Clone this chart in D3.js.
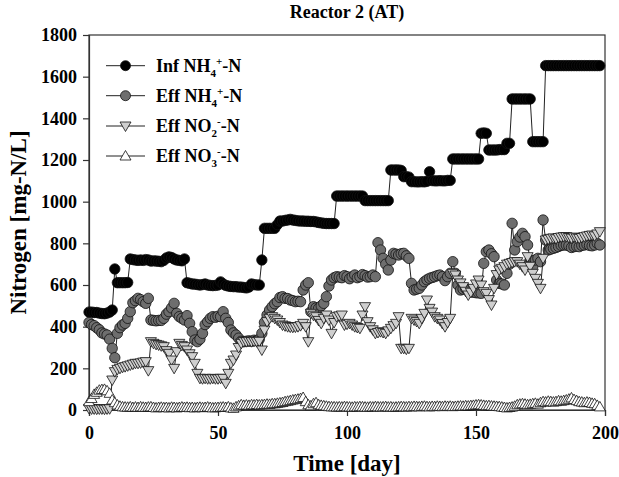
<!DOCTYPE html>
<html><head><meta charset="utf-8">
<script src="https://cdn.jsdelivr.net/npm/d3@7"></script>
<style>
body{margin:0;background:#fff;}
text{font-family:"Liberation Serif","Times New Roman",serif;font-weight:bold;fill:#000;}
</style></head>
<body><svg id="c" width="619" height="477"></svg>
<script>
const days = [0,1,2,3,4,5,6,7,8,9,10,11,12,13,14,15,16,17,18,19,20,21,22,23,24,25,26,27,28,29,30,31,32,33,34,35,36,37,38,39,40,41,42,43,44,45,46,47,48,49,50,51,52,53,54,55,56,57,58,59,60,61,62,63,64,65,66,67,68,69,70,71,72,73,74,75,76,77,78,79,80,81,82,83,84,85,86,87,88,89,90,91,92,93,94,95,96,97,98,99,100,101,102,103,104,105,106,107,108,109,110,111,112,113,114,115,116,117,118,119,120,121,122,123,124,125,126,127,128,129,130,131,132,133,134,135,136,137,138,139,140,141,142,143,144,145,146,147,148,149,150,151,152,153,154,155,156,157,158,159,160,161,162,163,164,165,166,167,168,169,170,171,172,173,174,175,176,177,178,179,180,181,182,183,184,185,186,187,188,189,190,191,192,193,194,195,196,197,198];
const infNH4 = [470,470,468,468,465,463,462,465,470,480,677,611,611,611,611,612,
725,722,720,718,720,718,722,720,715,716,715,714,712,718,730,735,732,725,720,718,716,725,
611,608,605,604,602,600,602,605,600,598,597,598,600,615,605,598,595,593,592,592,590,590,588,586,590,605,602,600,600,
720,872,872,872,872,872,890,
907,907,910,912,915,912,910,908,907,907,906,906,905,905,903,900,898,896,895,895,895,895,
1027,1027,1027,1027,1027,1027,1027,1027,1027,1027,1027,
1005,1005,1005,1005,1005,1005,1005,1005,1005,1005,
1152,1152,1152,1152,1150,1120,1120,1118,1096,1096,1095,1095,1096,1095,1098,1144,
1101,1100,1100,1101,1100,1100,1102,1102,
1205,1205,1205,1205,1205,1205,1205,1205,1205,1205,1205,
1328,1330,1328,1248,1248,1248,1248,1250,1250,1250,1280,1280,
1493,1493,1493,1493,1493,1493,1493,1493,1288,1288,1288,1288,1288,
1653,1653,1653,1653,1653,1653,1653,1653,1653,1653,1653,1653,1653,1653,1653,1653,1653,1653,1653,1653,1653,1653];
const effNH4 = [420,410,405,395,385,370,365,360,340,296,251,368,395,408,416,440,472,515,525,536,530,520,512,536,432,430,428,430,430,440,
460,472,490,512,464,448,440,432,453,416,376,336,328,340,368,410,424,440,448,445,450,448,472,440,420,384,370,360,345,330,
328,330,332,330,335,333,340,368,420,456,480,496,510,520,540,544,536,535,528,525,520,522,520,576,600,611,472,496,490,488,
500,512,544,595,624,635,640,638,635,645,640,630,640,648,635,640,650,645,638,640,648,640,803,768,728,700,672,720,752,748,
744,750,752,740,728,608,576,580,584,600,616,625,632,636,640,645,648,640,621,640,656,712,656,600,576,580,584,575,568,565,
563,562,560,704,760,768,750,736,624,608,605,600,656,700,896,768,808,830,848,832,792,720,688,720,728,712,912,816,768,772,
776,780,785,790,792,792,788,780,784,786,784,790,792,795,790,788,792,800,792];
const effNO2 = [8,5,5,4,5,5,4,5,6,144,184,195,200,205,208,212,216,220,224,224,226,230,232,189,328,320,315,312,308,304,
285,272,240,200,280,320,310,304,288,270,256,224,176,152,150,152,150,150,152,150,150,152,152,128,176,224,240,264,300,320,
328,328,330,328,330,328,330,288,384,424,440,448,440,432,420,408,404,400,398,397,398,400,405,416,400,328,464,455,448,430,
416,440,456,432,368,420,448,452,456,408,412,416,408,400,396,392,456,496,424,400,385,368,372,376,372,368,380,392,405,416,
448,296,296,292,296,440,432,425,416,440,464,528,488,470,448,440,432,415,400,420,440,656,648,624,610,592,570,552,565,584,
605,624,600,568,560,530,504,584,650,672,680,688,700,704,708,712,712,700,688,672,736,690,656,632,608,584,728,816,820,824,
826,822,828,830,832,832,828,825,830,826,824,828,832,835,838,840,836,845,856];
const effNO3 = [40,55,75,85,95,98,99,92,80,48,35,24,18,15,14,13,15,12,14,12,15,13,12,14,15,12,10,12,13,11,
12,10,13,12,10,12,14,12,13,11,12,10,12,13,11,12,14,12,10,11,12,13,14,12,15,10,8,15,20,25,
22,24,22,25,24,26,24,25,26,28,27,30,30,32,34,36,40,42,45,48,50,52,55,60,40,25,20,30,35,25,
22,20,18,16,15,15,14,15,14,16,15,14,13,15,14,16,15,14,13,15,14,16,15,14,15,16,14,15,13,14,
15,16,15,14,16,15,17,16,15,17,18,16,15,17,16,18,17,16,18,17,18,16,17,18,19,18,20,19,21,22,
24,25,24,22,20,21,19,18,17,16,14,12,10,12,14,18,25,28,30,28,25,27,30,32,28,35,40,38,42,40,
38,40,44,42,45,48,52,58,50,45,40,38,35,38,36,32,30,22,15];
const xTicks = [0,50,100,150,200];
const yTicks = [0,200,400,600,800,1000,1200,1400,1600,1800];

const svg = d3.select("#c");
const L=89, R=605, T=35, B=410;
const x = d3.scaleLinear().domain([0,200]).range([L,R]);
const y = d3.scaleLinear().domain([0,1800]).range([B,T]);

svg.append("rect").attr("x",L).attr("y",T).attr("width",R-L).attr("height",B-T)
  .attr("fill","none").attr("stroke","#333").attr("stroke-width",1.2);

const xAxis = svg.append("g").attr("transform",`translate(0,${B})`)
  .call(d3.axisBottom(x).tickValues(xTicks).tickFormat(d3.format("d")).tickSizeOuter(0).tickSize(6).tickPadding(10));
const yAxis = svg.append("g").attr("transform",`translate(${L},0)`)
  .call(d3.axisLeft(y).tickValues(yTicks).tickFormat(d3.format("d")).tickSizeOuter(0).tickSize(6).tickPadding(6));
[xAxis,yAxis].forEach(a=>{
  a.select(".domain").attr("stroke","#333").attr("stroke-width",1.2);
  a.selectAll(".tick line").attr("stroke","#333").attr("stroke-width",1.2);
  a.selectAll("text").style("font-family","'Liberation Serif',serif").style("font-weight","bold").style("font-size","18px").attr("fill","#000");
});

svg.append("text").attr("x",347).attr("y",18).attr("text-anchor","middle").style("font-size","18px").text("Reactor 2 (AT)");
svg.append("text").attr("x",347).attr("y",471).attr("text-anchor","middle").style("font-size","23px").text("Time [day]");
svg.append("text").attr("transform",`translate(26,${(T+B)/2}) rotate(-90)`).attr("text-anchor","middle").style("font-size","23px").text("Nitrogen [mg-N/L]");

const triDown = "M-5.5,-4L5.5,-4L0,5.5Z";
const triUp = "M-5.5,4L5.5,4L0,-5.5Z";
const styles = [
  {vals:infNH4, shape:"circle", fill:"#000"},
  {vals:effNH4, shape:"circle", fill:"#6e6e6e"},
  {vals:effNO2, shape:triDown, fill:"#cfcfcf"},
  {vals:effNO3, shape:triUp, fill:"#fff"}
];
const line = d3.line().x(d=>x(d[0])).y(d=>y(d[1]));
styles.forEach(s=>{
  const pts = days.map((d,i)=>[d,s.vals[i]]);
  const g = svg.append("g");
  g.append("path").attr("d",line(pts)).attr("fill","none").attr("stroke","#222").attr("stroke-width",1);
  pts.forEach(p=>{
    if(s.shape==="circle") g.append("circle").attr("cx",x(p[0])).attr("cy",y(p[1])).attr("r",5.2).attr("fill",s.fill).attr("stroke","#111").attr("stroke-width",0.8);
    else g.append("path").attr("d",s.shape).attr("transform",`translate(${x(p[0])},${y(p[1])})`).attr("fill",s.fill).attr("stroke","#111").attr("stroke-width",0.8);
  });
});

const legRows = [65.7,95.7,126,156];
const legParts = [
  [["Inf NH",""],["4","sub"],["+","sup"],["-N",""]],
  [["Eff NH",""],["4","sub"],["+","sup"],["-N",""]],
  [["Eff NO",""],["2","sub"],["-","sup"],["-N",""]],
  [["Eff NO",""],["3","sub"],["-","sup"],["-N",""]]
];
styles.forEach((s,i)=>{
  const yy = legRows[i];
  svg.append("line").attr("x1",106).attr("x2",145).attr("y1",yy).attr("y2",yy).attr("stroke","#222").attr("stroke-width",1);
  if(s.shape==="circle") svg.append("circle").attr("cx",125.5).attr("cy",yy).attr("r",5).attr("fill",s.fill).attr("stroke","#111").attr("stroke-width",0.8);
  else svg.append("path").attr("d",s.shape).attr("transform",`translate(125.5,${yy})`).attr("fill",s.fill).attr("stroke","#111").attr("stroke-width",0.8);
  const t = svg.append("text").attr("x",156).attr("y",yy+6).style("font-size","18px");
  legParts[i].forEach(([str,kind])=>{
    const ts = t.append("tspan").text(str);
    if(kind==="sub") ts.attr("dy",5).style("font-size","11px");
    else if(kind==="sup") ts.attr("dy",-12).style("font-size","11px");
    else if(str==="-N") ts.attr("dy",7);
  });
});
</script></body></html>
